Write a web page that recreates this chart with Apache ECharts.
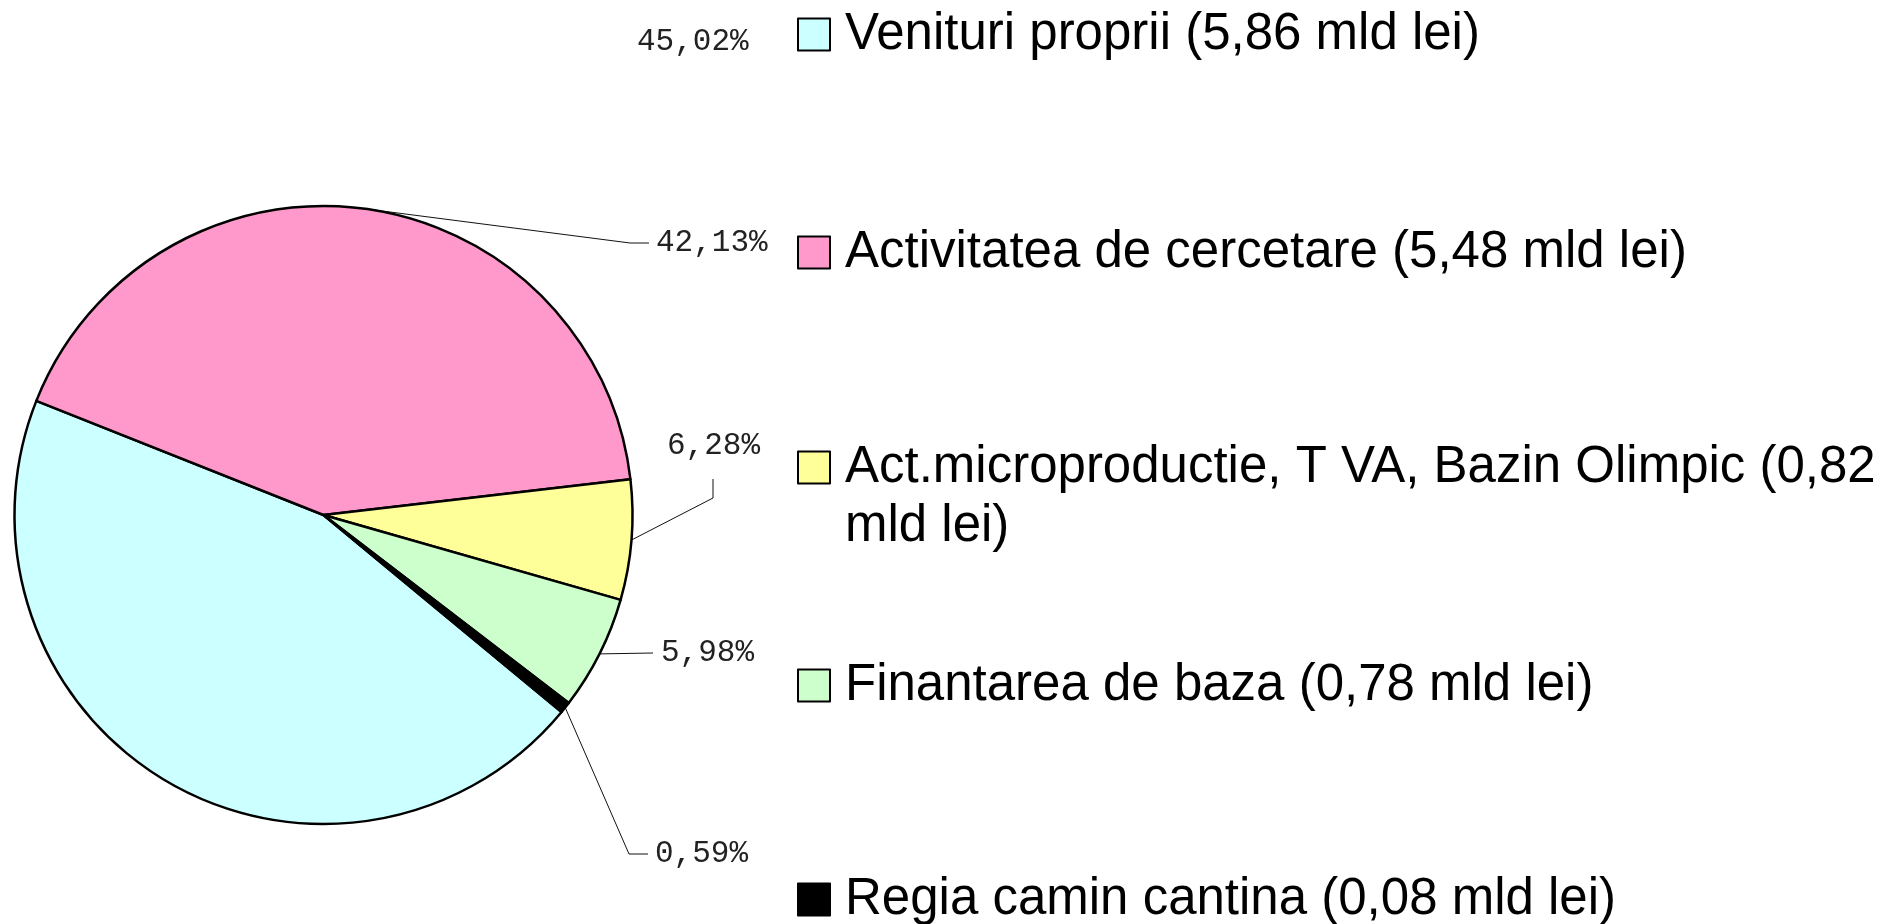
<!DOCTYPE html>
<html>
<head>
<meta charset="utf-8">
<title>Structura veniturilor</title>
<script src="https://cdn.jsdelivr.net/npm/echarts@6/dist/echarts.min.js"></script>
<style>
  html, body { margin: 0; padding: 0; background: #fff; }
  #chart { width: 1879px; height: 924px; }
</style>
</head>
<body>
<div id="chart"></div>
<script>
// surse de finantare (mld lei) si ponderea lor in total (%)
const categories = ['Venituri proprii', 'Activitatea de cercetare', 'Act.microproductie, T VA, Bazin Olimpic', 'Finantarea de baza', 'Regia camin cantina'];
const amounts = [5.86, 5.48, 0.82, 0.78, 0.08];
const percents = [45.02, 42.13, 6.28, 5.98, 0.59];
const colors = ['#ccffff', '#ff99cc', '#ffff99', '#ccffcc', '#000000'];

const fmt = v => v.toFixed(2).replace('.', ',');
const names = categories.map((c, i) => c + ' (' + fmt(amounts[i]) + ' mld lei)');

// pozitia etichetelor procentuale si a liniilor de legatura
const labelSpots = [
  { x: 637, y: 42, line: null },
  { x: 656, y: 243, line: [[630, 243], [649, 243]] },
  { x: 667, y: 446, line: [[713, 498], [713, 479]] },
  { x: 661, y: 653, line: [[653, 653], [653, 653]] },
  { x: 655, y: 854, line: [[629, 854], [648, 854]] }
];
const legendCenters = [32, 250, 465, 683, 897];

const myChart = echarts.init(document.getElementById('chart'));

const legends = names.map((n, i) => ({
  data: [n],
  left: 797,
  top: legendCenters[i] - 16 - 7,
  padding: 0,
  orient: 'vertical',
  itemWidth: 32,
  itemHeight: 32,
  selectedMode: false,
  icon: 'rect',
  itemStyle: { borderColor: '#000', borderWidth: 2 },
  formatter: function (name) {
    // a treia intrare se rupe pe doua randuri, ca in original
    return i === 2 ? name.replace(' mld lei)', '') : name;
  },
  textStyle: {
    fontFamily: 'Liberation Sans',
    fontSize: 51,
    color: '#000',
    lineHeight: 32,
    padding: [0, 0, 0, 10]
  }
}));

const option = {
  backgroundColor: '#fff',
  animation: false,
  legend: legends,
  graphic: [{
    type: 'text',
    left: 845,
    top: 527 - 26,
    style: {
      text: 'mld lei)',
      font: '51px "Liberation Sans"',
      fill: '#000'
    }
  }],
  series: [{
    type: 'pie',
    center: [323.5, 515],
    radius: 309,
    startAngle: 320.4,
    clockwise: true,
    avoidLabelOverlap: false,
    itemStyle: { borderColor: '#000', borderWidth: 2.5 },
    label: {
      show: true,
      position: 'outside',
      fontFamily: 'Liberation Mono',
      fontSize: 31,
      color: '#222',
      formatter: p => fmt(p.value) + '%'
    },
    labelLine: {
      show: true,
      lineStyle: { color: '#111', width: 1 }
    },
    labelLayout: function (p) {
      const spot = labelSpots[p.dataIndex];
      const out = { x: spot.x, y: spot.y, align: 'left', verticalAlign: 'middle' };
      if (spot.line && p.labelLinePoints) {
        out.labelLinePoints = [p.labelLinePoints[0], spot.line[0], spot.line[1]];
      }
      return out;
    },
    emphasis: { disabled: true },
    data: names.map((n, i) => ({
      name: n,
      value: percents[i],
      itemStyle: { color: colors[i] },
      labelLine: { show: i !== 0 }
    }))
  }]
};

myChart.setOption(option);
</script>
</body>
</html>
